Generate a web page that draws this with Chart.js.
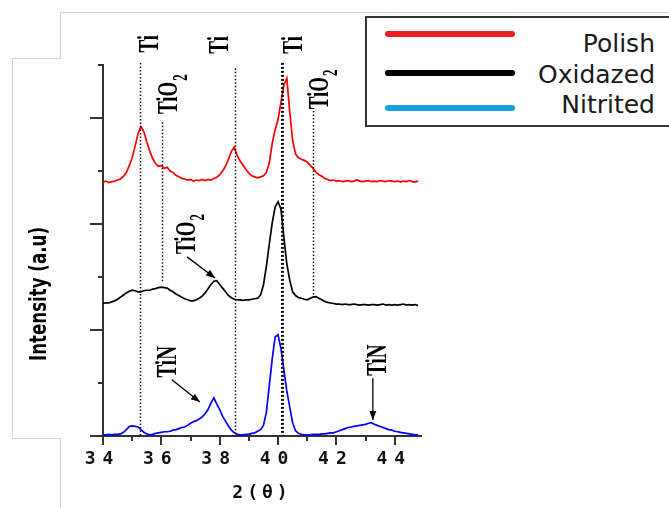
<!DOCTYPE html>
<html>
<head>
<meta charset="utf-8">
<script src="https://cdn.jsdelivr.net/npm/chart.js@4.4.0/dist/chart.umd.min.js"></script>
<style>
  html, body { margin: 0; padding: 0; background: #fff; }
  #wrap { position: relative; width: 669px; height: 508px; overflow: hidden; }
  #xrd { position: absolute; left: 0; top: 0; }
  #legend { position: absolute; left: 365px; top: 16px; width: 320px; height: 111px;
            border: 2px solid #333; box-sizing: border-box; background: #fff; }
  .swatch { position: absolute; left: 18px; width: 130px; height: 6px; border-radius: 3px; }
  .lbl { position: absolute; right: 28px; font: 25px "DejaVu Sans"; line-height: 25px; color: #1a1a1a; white-space: nowrap; }
</style>
</head>
<body>
<div id="wrap">
  <canvas id="xrd" width="669" height="508"></canvas>
  <div id="legend">
    <div class="swatch" style="top:13px;background:#ee1c25"></div>
    <div class="lbl" style="top:13px">Polish</div>
    <div class="swatch" style="top:52px;background:#000"></div>
    <div class="lbl" style="top:44px">Oxidazed</div>
    <div class="swatch" style="top:87px;background:#1a9fe0"></div>
    <div class="lbl" style="top:74px">Nitrited</div>
  </div>
</div>
<script>
// 2-theta positions (degrees)
const twoTheta = [
  34.0, 34.1, 34.2, 34.3, 34.4, 34.5, 34.6, 34.7, 34.8, 34.9,
  35.0, 35.1, 35.2, 35.3, 35.4, 35.5, 35.6, 35.7, 35.8, 35.9,
  36.0, 36.1, 36.2, 36.3, 36.4, 36.5, 36.6, 36.7, 36.8, 36.9,
  37.0, 37.1, 37.2, 37.3, 37.4, 37.5, 37.6, 37.7, 37.8, 37.9,
  38.0, 38.1, 38.2, 38.3, 38.4, 38.5, 38.6, 38.7, 38.8, 38.9,
  39.0, 39.1, 39.2, 39.3, 39.4, 39.5, 39.6, 39.7, 39.8, 39.9,
  40.0, 40.1, 40.2, 40.3, 40.4, 40.5, 40.6, 40.7, 40.8, 40.9,
  41.0, 41.1, 41.2, 41.3, 41.4, 41.5, 41.6, 41.7, 41.8, 41.9,
  42.0, 42.1, 42.2, 42.3, 42.4, 42.5, 42.6, 42.7, 42.8, 42.9,
  43.0, 43.1, 43.2, 43.3, 43.4, 43.5, 43.6, 43.7, 43.8, 43.9,
  44.0, 44.1, 44.2, 44.3, 44.4, 44.5, 44.6, 44.7, 44.8
];

const polish = [
  4.79, 4.81, 4.78, 4.80, 4.81, 4.83, 4.85, 4.90, 4.97, 5.10,
  5.25, 5.47, 5.70, 5.84, 5.74, 5.55, 5.38, 5.24, 5.14, 5.09,
  5.10, 5.05, 5.07, 5.00, 4.97, 4.92, 4.89, 4.86, 4.85, 4.83,
  4.84, 4.81, 4.83, 4.82, 4.84, 4.82, 4.84, 4.83, 4.86, 4.88,
  4.93, 5.00, 5.09, 5.22, 5.37, 5.45, 5.29, 5.19, 5.11, 5.03,
  4.96, 4.91, 4.89, 4.87, 4.89, 4.91, 4.97, 5.15, 5.52, 5.78,
  5.97, 6.30, 6.62, 6.75, 6.12, 5.58, 5.32, 5.25, 5.22, 5.20,
  5.17, 5.11, 5.05, 4.98, 4.93, 4.90, 4.86, 4.84, 4.82, 4.83,
  4.81, 4.82, 4.80, 4.81, 4.82, 4.80, 4.81, 4.83, 4.81, 4.80,
  4.81, 4.82, 4.80, 4.81, 4.80, 4.82, 4.81, 4.80, 4.82, 4.81,
  4.80, 4.81, 4.79, 4.81, 4.80, 4.82, 4.80, 4.79, 4.81
];

const oxidazed = [
  2.50, 2.51, 2.51, 2.53, 2.55, 2.58, 2.62, 2.66, 2.70, 2.73,
  2.75, 2.74, 2.72, 2.72, 2.74, 2.75, 2.75, 2.77, 2.78, 2.80,
  2.81, 2.80, 2.79, 2.75, 2.72, 2.68, 2.65, 2.62, 2.59, 2.57,
  2.55, 2.55, 2.57, 2.60, 2.64, 2.70, 2.78, 2.86, 2.92, 2.93,
  2.86, 2.79, 2.72, 2.65, 2.61, 2.58, 2.57, 2.57, 2.56, 2.57,
  2.57, 2.58, 2.59, 2.60, 2.66, 2.85, 3.20, 3.62, 4.02, 4.32,
  4.42, 4.28, 3.75, 3.25, 2.94, 2.72, 2.65, 2.61, 2.60, 2.58,
  2.57, 2.60, 2.62, 2.63, 2.60, 2.57, 2.54, 2.52, 2.51, 2.50,
  2.49, 2.49, 2.48, 2.49, 2.48, 2.48, 2.49, 2.48, 2.47, 2.48,
  2.48, 2.47, 2.48, 2.48, 2.47, 2.48, 2.49, 2.47, 2.48, 2.47,
  2.48, 2.47, 2.48, 2.49, 2.47, 2.48, 2.47, 2.48, 2.46
];

const nitrited = [
  0.02, 0.02, 0.03, 0.02, 0.03, 0.03, 0.04, 0.07, 0.12, 0.18,
  0.19, 0.18, 0.17, 0.12, 0.07, 0.04, 0.02, 0.03, 0.05, 0.06,
  0.07, 0.08, 0.08, 0.09, 0.11, 0.12, 0.14, 0.16, 0.17, 0.20,
  0.24, 0.27, 0.29, 0.32, 0.36, 0.42, 0.50, 0.62, 0.72, 0.60,
  0.50, 0.37, 0.28, 0.19, 0.11, 0.06, 0.03, 0.02, 0.02, 0.03,
  0.03, 0.05, 0.06, 0.09, 0.12, 0.20, 0.45, 0.95, 1.45, 1.87,
  1.91, 1.65, 1.25, 0.85, 0.55, 0.25, 0.10, 0.05, 0.03, 0.02,
  0.02, 0.02, 0.03, 0.03, 0.03, 0.04, 0.04, 0.05, 0.06, 0.06,
  0.08, 0.10, 0.12, 0.14, 0.16, 0.17, 0.18, 0.19, 0.20, 0.21,
  0.22, 0.24, 0.25, 0.22, 0.20, 0.18, 0.16, 0.14, 0.12, 0.11,
  0.09, 0.08, 0.07, 0.06, 0.05, 0.04, 0.03, 0.02, 0.02
];

const xMajorTicks = [34, 36, 38, 40, 42, 44];
const xMinorTicks = [35, 37, 39, 41, 43];
const yMajorTicks = [0, 2, 4, 6];
const yMinorTicks = [1, 3, 5, 7];

// reference lines (dotted), in data units
const refLines = [
  { x: 35.27, from: 0, to: 7.04, w: 1.5 },
  { x: 38.52, from: 0, to: 6.94, w: 1.5 },
  { x: 40.14, from: 0, to: 7.04, w: 3 },
  { x: 36.03, from: 2.89, to: 5.92, w: 1.5 },
  { x: 41.20, from: 2.62, to: 6.13, w: 1.5 }
];

// phase labels, rotated, centred at data coords
const phaseLabels = [
  { text: "Ti", x: 35.58, y: 7.40 },
  { text: "Ti", x: 37.98, y: 7.38 },
  { text: "Ti", x: 40.51, y: 7.38 },
  { text: "TiO", sub: "2", x: 36.23, y: 6.38 },
  { text: "TiO", sub: "2", x: 41.40, y: 6.47 },
  { text: "TiO", sub: "2", x: 36.84, y: 3.74 },
  { text: "TiN", x: 36.19, y: 1.40 },
  { text: "TiN", x: 43.39, y: 1.43 }
];

const arrows = [
  { x1: 36.88, y1: 3.38, x2: 37.84, y2: 2.98 },
  { x1: 36.36, y1: 1.06, x2: 37.32, y2: 0.64 },
  { x1: 43.25, y1: 1.09, x2: 43.25, y2: 0.30 }
];

function spacedText(ctx, str, cx, cy, gap) {
  const chars = str.split("");
  const widths = chars.map(c => ctx.measureText(c).width);
  let total = widths.reduce((a, b) => a + b, 0) + gap * (chars.length - 1);
  let x = cx - total / 2;
  ctx.textAlign = "left";
  chars.forEach((c, i) => {
    ctx.fillText(c, x, cy);
    x += widths[i] + gap;
  });
}

function vLabel(ctx, lab, px, py) {
  ctx.save();
  ctx.translate(px, py);
  ctx.rotate(-Math.PI / 2);
  ctx.scale(1, 1.55);
  ctx.font = "bold 19px 'Liberation Serif'";
  ctx.textBaseline = "alphabetic";
  ctx.textAlign = "left";
  const w = ctx.measureText(lab.text).width;
  ctx.fillText(lab.text, -w / 2, 6);
  if (lab.sub) {
    ctx.font = "bold 13px 'Liberation Serif'";
    ctx.fillText(lab.sub, w / 2 + 1, 12);
  }
  ctx.restore();
}

const decorations = {
  id: "decorations",
  beforeDraw(chart) {
    const ctx = chart.ctx;
    ctx.save();
    ctx.strokeStyle = "#d2d2d2";
    ctx.lineWidth = 1;
    ctx.beginPath();
    ctx.moveTo(669, 12.5);
    ctx.lineTo(60.5, 12.5);
    ctx.lineTo(60.5, 58.5);
    ctx.lineTo(12.5, 58.5);
    ctx.lineTo(12.5, 438.5);
    ctx.lineTo(60.5, 438.5);
    ctx.lineTo(60.5, 508);
    ctx.stroke();
    ctx.restore();
  },
  afterDraw(chart) {
    const { ctx, scales: { x, y } } = chart;
    const base = y.getPixelForValue(0);
    const left = x.getPixelForValue(34);
    ctx.save();
    ctx.strokeStyle = "#333";
    ctx.lineWidth = 2;
    // x ticks
    xMajorTicks.forEach(v => {
      const px = Math.round(x.getPixelForValue(v));
      ctx.beginPath(); ctx.moveTo(px, base); ctx.lineTo(px, base + 9); ctx.stroke();
    });
    xMinorTicks.forEach(v => {
      const px = Math.round(x.getPixelForValue(v));
      ctx.beginPath(); ctx.moveTo(px, base); ctx.lineTo(px, base + 5); ctx.stroke();
    });
    // y ticks
    yMajorTicks.forEach(v => {
      const py = Math.round(y.getPixelForValue(v));
      ctx.beginPath(); ctx.moveTo(left, py); ctx.lineTo(left - 13, py); ctx.stroke();
    });
    yMinorTicks.forEach(v => {
      const py = Math.round(y.getPixelForValue(v));
      ctx.beginPath(); ctx.moveTo(left, py); ctx.lineTo(left - 5, py); ctx.stroke();
    });

    // tick labels + x title
    ctx.fillStyle = "#111";
    ctx.font = "bold 18px 'DejaVu Sans Mono'";
    ctx.textBaseline = "middle";
    xMajorTicks.forEach(v => {
      spacedText(ctx, String(v), x.getPixelForValue(v) - 4, base + 23, 7);
    });
    spacedText(ctx, "2(\u03b8)", (x.left + x.right) / 2 - 2, base + 57, 4);

    // y title
    ctx.save();
    ctx.translate(40, 294);
    ctx.rotate(-Math.PI / 2);
    ctx.font = "bold 17px 'DejaVu Sans'";
    const tw = ctx.measureText("Intensity (a.u)").width;
    ctx.scale(134 / tw, 1.4);
    ctx.textAlign = "center";
    ctx.textBaseline = "middle";
    ctx.fillStyle = "#000";
    ctx.fillText("Intensity (a.u)", 0, 0);
    ctx.restore();

    // dotted reference lines
    ctx.strokeStyle = "#111";
    refLines.forEach(r => {
      const px = Math.round(x.getPixelForValue(r.x)) + 0.5;
      ctx.lineWidth = r.w;
      ctx.setLineDash(r.w > 2 ? [2, 2] : [1.5, 2]);
      ctx.beginPath();
      ctx.moveTo(px, y.getPixelForValue(r.to));
      ctx.lineTo(px, y.getPixelForValue(r.from));
      ctx.stroke();
    });
    ctx.setLineDash([]);

    // labels
    ctx.fillStyle = "#000";
    phaseLabels.forEach(l => vLabel(ctx, l, x.getPixelForValue(l.x), y.getPixelForValue(l.y)));

    // arrows
    ctx.strokeStyle = "#000";
    ctx.lineWidth = 1.3;
    arrows.forEach(a => {
      const x1 = x.getPixelForValue(a.x1), y1 = y.getPixelForValue(a.y1);
      const x2 = x.getPixelForValue(a.x2), y2 = y.getPixelForValue(a.y2);
      const ang = Math.atan2(y2 - y1, x2 - x1);
      ctx.beginPath(); ctx.moveTo(x1, y1); ctx.lineTo(x2, y2); ctx.stroke();
      ctx.beginPath();
      ctx.moveTo(x2, y2);
      ctx.lineTo(x2 - 9 * Math.cos(ang) + 3.5 * Math.sin(ang), y2 - 9 * Math.sin(ang) - 3.5 * Math.cos(ang));
      ctx.lineTo(x2 - 9 * Math.cos(ang) - 3.5 * Math.sin(ang), y2 - 9 * Math.sin(ang) + 3.5 * Math.cos(ang));
      ctx.closePath();
      ctx.fill();
    });
    ctx.restore();
  }
};

function pts(series) {
  return twoTheta.map((t, i) => ({ x: t, y: series[i] }));
}

new Chart(document.getElementById("xrd").getContext("2d"), {
  type: "line",
  data: {
    datasets: [
      { label: "Polish", data: pts(polish), borderColor: "#ff0000", borderWidth: 1.7, pointRadius: 0 },
      { label: "Oxidazed", data: pts(oxidazed), borderColor: "#000000", borderWidth: 1.7, pointRadius: 0 },
      { label: "Nitrited", data: pts(nitrited), borderColor: "#0000ff", borderWidth: 1.7, pointRadius: 0 }
    ]
  },
  options: {
    responsive: false,
    animation: false,
    layout: { padding: { top: 65, right: 248, left: 0, bottom: 0 } },
    plugins: { legend: { display: false }, tooltip: { enabled: false } },
    scales: {
      x: {
        type: "linear", min: 34, max: 44.9,
        ticks: { display: false },
        grid: { display: false },
        border: { display: true, color: "#333", width: 2 },
        afterFit(s) { s.height = 72; }
      },
      y: {
        min: 0, max: 7,
        ticks: { display: false },
        grid: { display: false },
        border: { display: true, color: "#333", width: 2 },
        afterFit(s) { s.width = 103; }
      }
    }
  },
  plugins: [decorations]
});
</script>
</body>
</html>
